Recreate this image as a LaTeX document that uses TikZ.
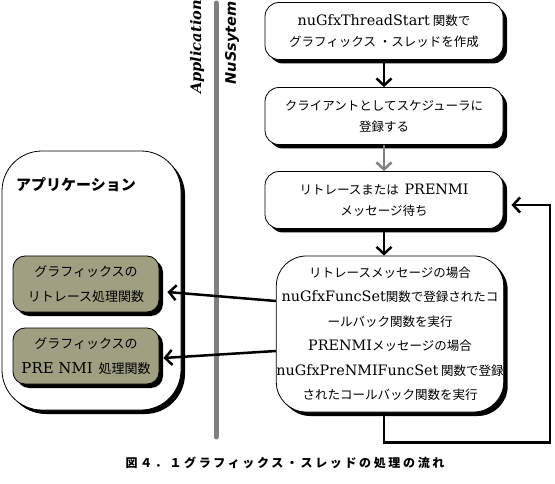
\documentclass[tikz,border=0pt]{standalone}
\usepackage{fontspec}
\setmainfont{DejaVu Serif}[Scale=1.15]
\newfontfamily\jpfont{Noto Sans CJK JP}
\newfontfamily\sysfont{DejaVu Sans}
\usepackage{xcolor}
\usepackage{tikz}
\usetikzlibrary{calc}
\usetikzlibrary{arrows.meta}
\usetikzlibrary{shadows}
\definecolor{olivefill}{RGB}{161,159,130}
\definecolor{railgray}{RGB}{128,128,128}
\newcommand{\lat}[1]{{\rmfamily #1}}
\tikzstyle{stepnode}=[black, draw=black, line width=0.8pt, shape=rectangle, rounded corners=14pt, fill=white, minimum width=238pt, minimum height=57pt, inner sep=2pt, align=center, font=\jpfont\fontsize{12.5}{21}\selectfont, drop shadow={shadow xshift=4pt, shadow yshift=-4pt, fill=black, opacity=1}]
\tikzstyle{handlernode}=[stepnode, rounded corners=30pt, minimum width=226pt, minimum height=156pt, inner sep=0pt, font=\jpfont\fontsize{12.5}{24.5}\selectfont]
\tikzstyle{appnode}=[stepnode, rounded corners=40pt, minimum width=179pt, minimum height=259pt]
\tikzstyle{funcnode}=[stepnode, rounded corners=12pt, fill=olivefill, minimum width=146pt, minimum height=56pt, font=\jpfont\fontsize{13}{25}\selectfont]
\tikzstyle{flowarrow}=[-{Straight Barb[length=7pt, width=15pt]}, line width=2.5pt, color=black]

\begin{document}
\begin{tikzpicture}[x=1pt, y=-1pt]
\useasboundingbox (0,0) rectangle (555,484);
\draw[line width=5pt, railgray, line cap=round] (216,3) -- (216,437);
\node [rotate=90, inner sep=0pt, font=\rmfamily\bfseries\itshape\fontsize{12.7}{12.7}\selectfont] (applabel) at (197,47) {Application};
\node [rotate=90, inner sep=0pt, font=\sysfont\bfseries\itshape\fontsize{14.5}{14.5}\selectfont] (syslabel) at (232,43) {NuSsytem};

\node [stepnode] (start) at (384,31) {\lat{nuGfxThreadStart} 関数で\\グラフィックス\ ・スレッドを作成};
\node [stepnode] (client) at (384,116) {クライアントとしてスケジューラに\\登録する};
\node [stepnode] (wait) at (384,200) {リトレースまたは\ \ \lat{PRENMI}\\メッセージ待ち};
\node [handlernode] (handler) at (390,334) {リトレースメッセージの場合\\\lat{nuGfxFuncSet}関数で登録されたコ\\ールバック関数を実行\\\lat{PRENMI}メッセージの場合\\\lat{nuGfxPreNMIFuncSet} 関数で登録\\されたコールバック関数を実行};

\node [appnode] (app) at (91.5,280.5) {};
\node [inner sep=0pt, anchor=west, font=\jpfont\bfseries\fontsize{15}{15}\selectfont] (apptitle) at (16,185) {アプリケーション};
\node [funcnode] (retrace) at (86,284) {グラフィックスの\\リトレース処理関数};
\node [funcnode] (prenmi) at (86,356) {グラフィックスの\\\lat{PRE NMI}\ \ 処理関数};

\draw[flowarrow] (start) -- (client);
\draw[flowarrow, color=railgray] (client) -- (wait);
\draw[flowarrow] (wait.south) -- (wait.south |- handler.north);
\draw[flowarrow] (wait.south |- handler.south) -- ++(0,30) -- ++(166,0) |- ([xshift=8pt, yshift=-5pt]wait.east);
\draw[flowarrow] ([yshift=33pt]handler.west) -- ([xshift=8pt, yshift=-8pt]retrace.east);
\draw[flowarrow] ([yshift=-17pt]handler.west) -- ([xshift=4pt, yshift=-2pt]prenmi.east);

\node [inner sep=0pt, font=\jpfont\bfseries\fontsize{12}{12}\selectfont\addfontfeature{LetterSpace=22}] (caption) at (285,463) {図４．１グラフィックス・スレッドの処理の流れ};
\end{tikzpicture}
\end{document}
